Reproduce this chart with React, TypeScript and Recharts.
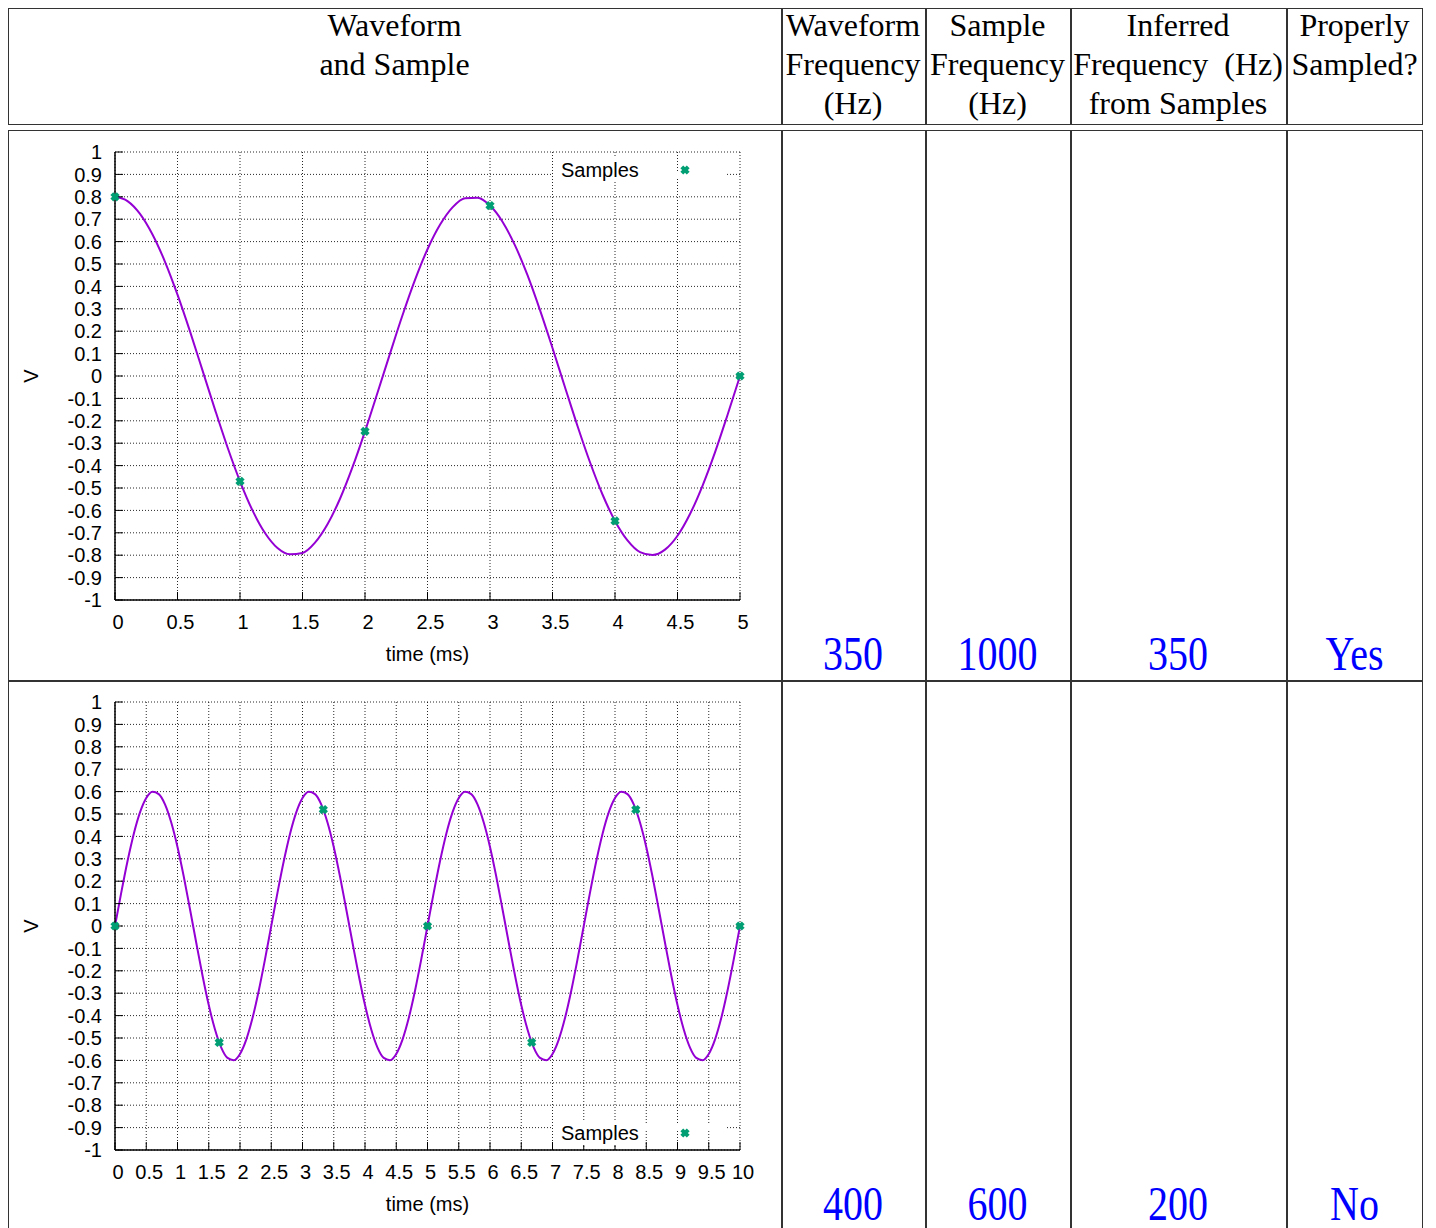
import {
  ComposedChart,
  Line,
  Scatter,
  XAxis,
  YAxis,
  CartesianGrid,
  Legend,
} from 'recharts'

// tick values
const yTicks = [-1, -0.9, -0.8, -0.7, -0.6, -0.5, -0.4, -0.3, -0.2, -0.1, 0, 0.1, 0.2, 0.3, 0.4, 0.5, 0.6, 0.7, 0.8, 0.9, 1]
const xTicks1 = [0, 0.5, 1, 1.5, 2, 2.5, 3, 3.5, 4, 4.5, 5]
const xTicks2 = [0, 0.5, 1, 1.5, 2, 2.5, 3, 3.5, 4, 4.5, 5, 5.5, 6, 6.5, 7, 7.5, 8, 8.5, 9, 9.5, 10]

// row 1 waveform (350 Hz), read every 0.1 ms
const wave1T = [
  0, 0.1, 0.2, 0.3, 0.4, 0.5, 0.6, 0.7, 0.8, 0.9, 1, 1.1, 1.2, 1.3, 1.4, 1.5, 1.6, 1.7, 1.8, 1.9, 2,
  2.1, 2.2, 2.3, 2.4, 2.5, 2.6, 2.7, 2.8, 2.9, 3, 3.1, 3.2, 3.3, 3.4, 3.5, 3.6, 3.7, 3.8, 3.9, 4,
  4.1, 4.2, 4.3, 4.4, 4.5, 4.6, 4.7, 4.8, 4.9, 5,
]
const wave1V = [
  0.8, 0.781, 0.724, 0.632, 0.51, 0.363, 0.199, 0.025, -0.15, -0.318, -0.47, -0.6, -0.701, -0.768, -0.796, -0.79,
  -0.744, -0.662, -0.548, -0.407, -0.247, -0.075, 0.1, 0.271, 0.429, 0.566, 0.675, 0.753, 0.794, 0.796, 0.761,
  0.689, 0.583, 0.45, 0.294, 0.125, -0.05, -0.223, -0.385, -0.529, -0.647, -0.734, -0.786, -0.799, -0.775, -0.713,
  -0.616, -0.49, -0.341, -0.174, 0,
]
const samp1T = [0, 1, 2, 3, 4, 5]
const samp1V = [0.8, -0.47, -0.247, 0.761, -0.647, 0]

// row 2 waveform (400 Hz), read every 0.1 ms
const wave2T = [
  0, 0.1, 0.2, 0.3, 0.4, 0.5, 0.6, 0.7, 0.8, 0.9, 1, 1.1, 1.2, 1.3, 1.4, 1.5, 1.6, 1.7, 1.8, 1.9, 2,
  2.1, 2.2, 2.3, 2.4, 2.5, 2.6, 2.7, 2.8, 2.9, 3, 3.1, 3.2, 3.3, 3.4, 3.5, 3.6, 3.7, 3.8, 3.9, 4,
  4.1, 4.2, 4.3, 4.4, 4.5, 4.6, 4.7, 4.8, 4.9, 5, 5.1, 5.2, 5.3, 5.4, 5.5, 5.6, 5.7, 5.8, 5.9, 6,
  6.1, 6.2, 6.3, 6.4, 6.5, 6.6, 6.7, 6.8, 6.9, 7, 7.1, 7.2, 7.3, 7.4, 7.5, 7.6, 7.7, 7.8, 7.9, 8,
  8.1, 8.2, 8.3, 8.4, 8.5, 8.6, 8.7, 8.8, 8.9, 9, 9.1, 9.2, 9.3, 9.4, 9.5, 9.6, 9.7, 9.8, 9.9, 10,
]
const wave2V = [
  0, 0.149, 0.289, 0.411, 0.507, 0.571, 0.599, 0.589, 0.543, 0.462, 0.353, 0.221, 0.075, -0.075, -0.221,
  -0.353, -0.462, -0.543, -0.589, -0.599, -0.571, -0.507, -0.411, -0.289, -0.149,
  0, 0.149, 0.289, 0.411, 0.507, 0.571, 0.599, 0.589, 0.543, 0.462, 0.353, 0.221, 0.075, -0.075, -0.221,
  -0.353, -0.462, -0.543, -0.589, -0.599, -0.571, -0.507, -0.411, -0.289, -0.149,
  0, 0.149, 0.289, 0.411, 0.507, 0.571, 0.599, 0.589, 0.543, 0.462, 0.353, 0.221, 0.075, -0.075, -0.221,
  -0.353, -0.462, -0.543, -0.589, -0.599, -0.571, -0.507, -0.411, -0.289, -0.149,
  0, 0.149, 0.289, 0.411, 0.507, 0.571, 0.599, 0.589, 0.543, 0.462, 0.353, 0.221, 0.075, -0.075, -0.221,
  -0.353, -0.462, -0.543, -0.589, -0.599, -0.571, -0.507, -0.411, -0.289, -0.149,
  0,
]
const samp2T = [0, 1.667, 3.333, 5, 6.667, 8.333, 10]
const samp2V = [0, -0.52, 0.52, 0, -0.52, 0.52, 0]

// table text
const headers = [
  'Waveform\nand Sample',
  'Waveform\nFrequency\n(Hz)',
  'Sample\nFrequency\n(Hz)',
  'Inferred\nFrequency  (Hz)\nfrom Samples',
  'Properly\nSampled?',
]
const waveFreq = ['350', '400']
const sampleFreq = ['1000', '600']
const inferredFreq = ['350', '200']
const properly = ['Yes', 'No']

// column edges, relative to the 8px body margin
const cols = [0, 773, 917, 1062, 1278, 1415]
const LINE = '#333'
const SANS = '"Liberation Sans", Arial, sans-serif'
const SERIF = '"Liberation Serif", "Times New Roman", serif'
const PURPLE = '#9400d3'
const GREEN = '#009e73'

function toPoints(ts: number[], vs: number[]) {
  return ts.map((t, i) => ({ t, v: vs[i] }))
}

function Cross(props: any) {
  const { cx, cy } = props
  if (cx == null || cy == null) return null
  return (
    <g>
      <line x1={cx - 3.2} y1={cy - 3.2} x2={cx + 3.2} y2={cy + 3.2} stroke={GREEN} strokeWidth={4} />
      <line x1={cx - 3.2} y1={cy + 3.2} x2={cx + 3.2} y2={cy - 3.2} stroke={GREEN} strokeWidth={4} />
    </g>
  )
}

function SamplesKey({ strip }: { strip: number }) {
  return (
    <div style={{ position: 'relative', width: 174, height: 24 }}>
      <div style={{ position: 'absolute', left: 0, top: strip - 3, width: 174, height: 6, background: '#fff' }} />
      <span
        style={{
          position: 'absolute',
          left: 8,
          top: 0,
          lineHeight: '24px',
          fontSize: 20,
          fontFamily: SANS,
          color: '#000',
          background: '#fff',
          padding: '0 2px 0 0',
        }}
      >
        Samples
      </span>
      <svg style={{ position: 'absolute', left: 126, top: 6 }} width={12} height={12}>
        <Cross cx={6} cy={6} />
      </svg>
    </div>
  )
}

interface PanelProps {
  curve: { t: number; v: number }[]
  samples: { t: number; v: number }[]
  xTicks: number[]
  xMax: number
  keyTop: number
  keyStrip: number
}

function WavePanel({ curve, samples, xTicks, xMax, keyTop, keyStrip }: PanelProps) {
  const tickStyle = { fontSize: 20, fill: '#000', fontFamily: SANS }
  return (
    <ComposedChart width={773} height={550} margin={{ top: 22, right: 41, bottom: 30, left: 47 }}>
      <CartesianGrid stroke="#000" strokeOpacity={0.85} strokeDasharray="1 2" />
      <XAxis
        dataKey="t"
        type="number"
        domain={[0, xMax]}
        ticks={xTicks}
        interval={0}
        height={50}
        tick={{ ...tickStyle, dx: 3 }}
        tickSize={-8}
        tickMargin={23}
        axisLine={{ stroke: '#000', strokeWidth: 1.5 }}
        tickLine={{ stroke: '#000' }}
        label={{
          content: (p: any) => {
            const vb = p.viewBox
            return (
              <text
                x={vb.x + vb.width / 2}
                y={vb.y + 54}
                textAnchor="middle"
                dominantBaseline="central"
                fontSize={20}
                fontFamily={SANS}
                fill="#000"
              >
                time (ms)
              </text>
            )
          },
        }}
      />
      <XAxis
        xAxisId="top"
        orientation="top"
        type="number"
        domain={[0, xMax]}
        ticks={xTicks}
        interval={0}
        allowDataOverflow
        height={0}
        tick={false}
        tickSize={-8}
        axisLine={{ stroke: '#000', strokeWidth: 1.5 }}
        tickLine={{ stroke: '#000' }}
      />
      <YAxis
        dataKey="v"
        type="number"
        domain={[-1, 1]}
        ticks={yTicks}
        interval={0}
        width={60}
        tick={tickStyle}
        tickSize={-8}
        tickMargin={21}
        tickFormatter={(v: number) => String(v)}
        axisLine={{ stroke: '#000', strokeWidth: 1.5 }}
        tickLine={{ stroke: '#000' }}
        label={{
          content: (p: any) => {
            const vb = p.viewBox
            const x = vb.x - 24
            const y = vb.y + vb.height / 2
            return (
              <text
                x={x}
                y={y}
                transform={`rotate(-90 ${x} ${y})`}
                textAnchor="middle"
                dominantBaseline="central"
                fontSize={20}
                fontFamily={SANS}
                fill="#000"
              >
                V
              </text>
            )
          },
        }}
      />
      <YAxis
        yAxisId="right"
        orientation="right"
        type="number"
        domain={[-1, 1]}
        ticks={yTicks}
        interval={0}
        allowDataOverflow
        width={0}
        tick={false}
        tickSize={-8}
        axisLine={{ stroke: '#000', strokeWidth: 1.5 }}
        tickLine={{ stroke: '#000' }}
      />
      <Line
        data={curve}
        dataKey="v"
        type="monotone"
        stroke={PURPLE}
        strokeWidth={2}
        dot={false}
        isAnimationActive={false}
      />
      <Scatter data={samples} dataKey="v" fill={GREEN} shape={<Cross />} isAnimationActive={false} />
      <Legend
        layout="horizontal"
        verticalAlign="middle"
        align="center"
        wrapperStyle={{ left: 545, top: keyTop, width: 174, height: 24 }}
        content={() => <SamplesKey strip={keyStrip} />}
      />
    </ComposedChart>
  )
}

function ValueCell({ text, col, baseline }: { text: string; col: number; baseline: number }) {
  return (
    <div
      style={{
        position: 'absolute',
        left: cols[col],
        width: cols[col + 1] - cols[col],
        top: baseline - 29.5,
        height: 32,
        lineHeight: '32px',
        fontSize: 40,
        fontFamily: SERIF,
        color: '#0000ff',
        textAlign: 'center',
        transform: 'scaleY(1.22)',
        transformOrigin: 'center 29.5px',
      }}
    >
      {text}
    </div>
  )
}

export default function App() {
  const rowBase = [662, 1212]
  return (
    <div style={{ position: 'relative', width: 1420, height: 1220, overflow: 'hidden', background: '#fff' }}>
      {/* header box */}
      <div
        style={{
          position: 'absolute',
          left: 0,
          top: 0,
          width: 1415,
          height: 117,
          border: `1.5px solid ${LINE}`,
          boxSizing: 'border-box',
        }}
      />
      {/* body box */}
      <div
        style={{
          position: 'absolute',
          left: 0,
          top: 122,
          width: 1415,
          height: 1200,
          border: `1.5px solid ${LINE}`,
          boxSizing: 'border-box',
        }}
      />
      <div style={{ position: 'absolute', left: 0, top: 672, width: 1415, height: 1.5, background: LINE }} />
      {cols.slice(1, 5).map((x) => (
        <div key={'h' + x} style={{ position: 'absolute', left: x, top: 0, width: 1.5, height: 117, background: LINE }} />
      ))}
      {cols.slice(1, 5).map((x) => (
        <div key={'b' + x} style={{ position: 'absolute', left: x, top: 122, width: 1.5, height: 1100, background: LINE }} />
      ))}

      {headers.map((h, i) => (
        <div
          key={h}
          style={{
            position: 'absolute',
            left: cols[i],
            width: cols[i + 1] - cols[i],
            top: -2,
            fontSize: 32,
            lineHeight: '39px',
            fontFamily: SERIF,
            textAlign: 'center',
            whiteSpace: 'pre',
            color: '#000',
          }}
        >
          {h}
        </div>
      ))}

      <div style={{ position: 'absolute', left: 0, top: 122 }}>
        <WavePanel
          curve={toPoints(wave1T, wave1V)}
          samples={toPoints(samp1T, samp1V)}
          xTicks={xTicks1}
          xMax={5}
          keyTop={28}
          keyStrip={16}
        />
      </div>
      <div style={{ position: 'absolute', left: 0, top: 672 }}>
        <WavePanel
          curve={toPoints(wave2T, wave2V)}
          samples={toPoints(samp2T, samp2V)}
          xTicks={xTicks2}
          xMax={10}
          keyTop={441}
          keyStrip={7}
        />
      </div>

      {[0, 1].map((r) => (
        <div key={'r' + r}>
          <ValueCell text={waveFreq[r]} col={1} baseline={rowBase[r]} />
          <ValueCell text={sampleFreq[r]} col={2} baseline={rowBase[r]} />
          <ValueCell text={inferredFreq[r]} col={3} baseline={rowBase[r]} />
          <ValueCell text={properly[r]} col={4} baseline={rowBase[r]} />
        </div>
      ))}
    </div>
  )
}
